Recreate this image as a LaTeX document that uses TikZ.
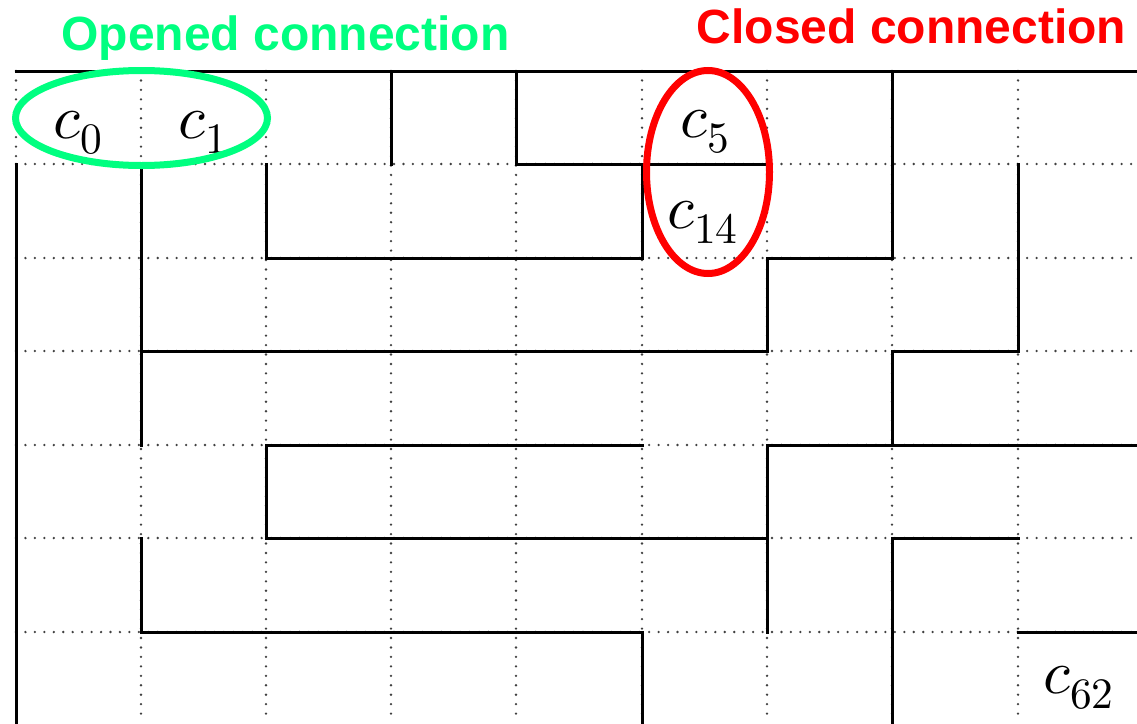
\documentclass[tikz,border=0pt]{standalone}
\usepackage{fontspec}
\usepackage{unicode-math}
\setmathfont{Latin Modern Math}
\newfontfamily\headfont{Liberation Sans}
\definecolor{opengreen}{HTML}{00FF80}
\definecolor{closedred}{HTML}{FF0000}
\begin{document}
\begin{tikzpicture}[x=1pt,y=-1pt,
  gridline/.style={line width=2.6pt,black!75,line cap=round,dash pattern=on 0pt off 9.45pt},
  wall/.style={line width=3pt,black,line cap=rect},
  cell/.style={anchor=base west,inner sep=0pt,font=\fontsize{62}{70}\selectfont},
  header/.style={anchor=base,inner sep=0pt,font=\headfont\bfseries\fontsize{48}{56}\selectfont},
  ring/.style={line width=7pt}]
\useasboundingbox (0,0) rectangle (1137,723);
% dotted grid
\draw[gridline] (16,71) -- (16,164);
\foreach \x in {141,266,391,516,642,767,892,1018}
  \draw[gridline] (\x,71) -- (\x,723);
\foreach \y in {164,258,351,445,538,632}
  \draw[gridline] (16,\y) -- (1137,\y);
% horizontal walls
\draw[wall] (16,71) -- (1137,71);
\draw[wall] (516,164) -- (767,164);
\draw[wall] (266,258) -- (642,258);
\draw[wall] (767,258) -- (892,258);
\draw[wall] (141,351) -- (767,351);
\draw[wall] (892,351) -- (1018,351);
\draw[wall] (266,445) -- (642,445);
\draw[wall] (767,445) -- (1137,445);
\draw[wall] (266,538) -- (767,538);
\draw[wall] (892,538) -- (1018,538);
\draw[wall] (141,632) -- (642,632);
\draw[wall] (1018,632) -- (1137,632);
% vertical walls
\draw[wall] (16,164) -- (16,723);
\draw[wall] (141,164) -- (141,445);
\draw[wall] (141,538) -- (141,632);
\draw[wall] (266,164) -- (266,258);
\draw[wall] (266,445) -- (266,538);
\draw[wall] (391,71) -- (391,164);
\draw[wall] (516,71) -- (516,164);
\draw[wall] (642,164) -- (642,258);
\draw[wall] (642,632) -- (642,723);
\draw[wall] (767,258) -- (767,351);
\draw[wall] (767,445) -- (767,632);
\draw[wall] (892,71) -- (892,258);
\draw[wall] (892,351) -- (892,445);
\draw[wall] (892,538) -- (892,723);
\draw[wall] (1018,164) -- (1018,351);
% cell labels
\node[cell] (c0) at (53,138) {$c_0$};
\node[cell] (c1) at (178,138) {$c_1$};
\node[cell] (c5) at (680,137) {$c_5$};
\node[cell] (c14) at (667,228) {$c_{14}$};
\node[cell] (c62) at (1043,693) {$c_{62}$};
% highlights
\draw[ring,opengreen] (141.5,118) ellipse [x radius=126, y radius=47.5];
\draw[ring,closedred] (708,172) ellipse [x radius=61.5, y radius=101.5];
\node[header,text=opengreen] (open) at (285.5,50) {Opened connection};
\node[header,text=closedred] (closed) at (911.5,43) {Closed connection};
\end{tikzpicture}
\end{document}
